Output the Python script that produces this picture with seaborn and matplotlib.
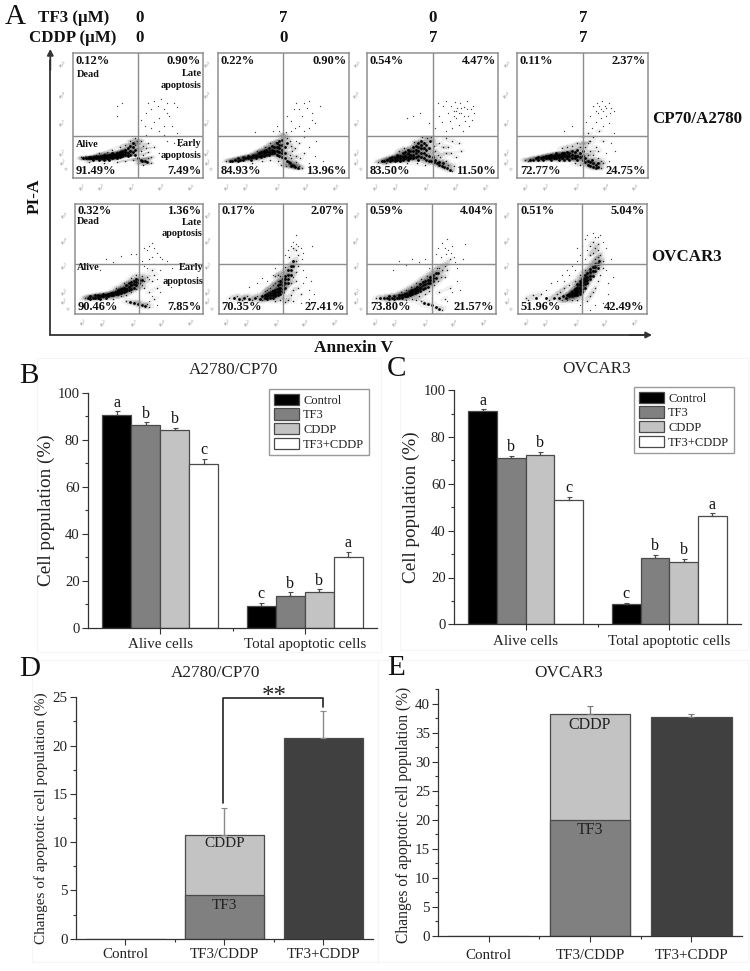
import matplotlib
matplotlib.use("Agg")
import matplotlib.pyplot as plt
from matplotlib.patches import Rectangle
from matplotlib.ticker import MultipleLocator, FixedLocator
import pandas as pd
import seaborn as sns

sns.set_style("ticks")
plt.rcParams['font.family'] = ['Liberation Serif', 'DejaVu Sans']
plt.rcParams['mathtext.fontset'] = 'stix'

W, H = 750, 971

# ---------- bar data ----------
treatments = ["Control", "TF3", "CDDP", "TF3+CDDP"]
groups = ["Alive cells", "Total apoptotic cells"]
b_alive = [90.7, 86.2, 84.2, 69.8]
b_alive_err = [1.5, 1.3, 1.1, 2.2]
b_total = [9.2, 13.6, 15.3, 30.0]
b_total_err = [1.5, 1.5, 1.1, 2.2]
b_alive_letters = ["a", "b", "b", "c"]
b_total_letters = ["c", "b", "b", "a"]
c_alive = [91.0, 71.2, 72.4, 53.3]
c_alive_err = [0.8, 0.9, 1.3, 1.2]
c_total = [8.6, 28.5, 26.8, 46.4]
c_total_err = [0.7, 1.1, 1.2, 1.0]
c_alive_letters = ["a", "b", "b", "c"]
c_total_letters = ["c", "b", "b", "a"]

change_cats = ["Control", "TF3/CDDP", "TF3+CDDP"]
d_tf3 = [0, 4.5, 0]
d_total = [0, 10.7, 20.8]
d_err = [0, 2.8, 2.8]
e_tf3 = [0, 20.0, 0]
e_total = [0, 38.2, 37.8]
e_err = [0, 1.5, 0.5]

# ---------- flow cytometry percentages (UL, UR, LL, LR) ----------
pct_row1 = [["0.12%", "0.90%", "91.49%", "7.49%"], ["0.22%", "0.90%", "84.93%", "13.96%"],
            ["0.54%", "4.47%", "83.50%", "11.50%"], ["0.11%", "2.37%", "72.77%", "24.75%"]]
pct_row2 = [["0.32%", "1.36%", "90.46%", "7.85%"], ["0.17%", "2.07%", "70.35%", "27.41%"],
            ["0.59%", "4.04%", "73.80%", "21.57%"], ["0.51%", "5.04%", "51.96%", "42.49%"]]

# ---------- flow cytometry events (percent of panel range) ----------
r1c1_core = [(8,16),(10,16),(12,16),(14,16),(12,17),(15,15),(16,17),(18,16),(18,18),(20,17),(20,15),(22,16),(22,18),(24,17),(24,19),(24,15),(26,16),(26,18),(28,17),(28,19),(28,15),(30,18),(30,20),(30,16),(32,17),(32,19),(34,18),(34,20),(34,16),(36,19),(36,21),(36,17),(38,18),(38,20),(38,22),(40,19),(40,21),(40,23),(42,20),(42,24),(42,18),(44,22),(44,26),(44,19),(46,21),(46,25),(46,28),(48,23),(48,19),(50,16),(52,15),(55,14),(57,13),(53,14)]
r1c1_mid = [(48,27),(50,24),(52,22),(50,28),(54,19),(56,24),(58,16),(60,12),(58,21),(54,26),(49,30),(44,30),(40,27),(36,25),(30,23),(26,21),(20,20),(12,13),(6,17),(24,12),(34,13),(40,14),(46,15),(50,12),(54,11),(60,17),(62,25),(48,32),(52,30),(58,28)]
r1c1_sparse = [(34,58),(38,60),(34,50),(50,50),(52,47),(56,52),(58,60),(60,55),(62,62),(65,58),(68,63),(70,55),(72,60),(74,50),(78,60),(80,57),(62,45),(66,48),(70,42),(72,52),(76,42),(60,40),(55,42),(66,38),(70,35),(56,35),(80,36),(82,26),(78,28),(72,30),(66,20),(72,17)]

r1c2_core = [(9,14),(11,14),(13,15),(15,14),(15,16),(17,15),(19,15),(19,17),(21,16),(23,16),(23,18),(25,15),(25,17),(27,17),(27,19),(29,16),(29,18),(31,18),(31,20),(33,17),(33,19),(33,21),(35,18),(35,20),(35,22),(37,19),(37,21),(37,23),(39,19),(39,21),(39,24),(41,20),(41,23),(41,26),(43,20),(43,22),(43,25),(45,19),(45,22),(45,25),(45,28),(47,18),(47,21),(47,24),(47,27),(47,30),(49,17),(49,20),(49,23),(49,27),(49,31),(51,16),(51,20),(51,25),(53,28),(53,14),(55,12),(57,11),(59,9),(61,8),(54,13),(56,10),(58,10)]
r1c2_mid = [(6,14),(60,13),(62,10),(64,8),(55,19),(57,22),(60,18),(53,32),(55,30),(51,34),(50,36),(48,34),(44,29),(40,28),(36,25),(30,22),(26,12),(34,14),(40,15),(46,14),(52,10),(48,11),(56,26),(59,24),(63,16),(62,28),(66,20),(56,16)]
r1c2_sparse = [(28,37),(42,38),(45,42),(47,38),(52,37),(53,50),(56,46),(58,55),(60,60),(62,55),(64,50),(66,60),(68,56),(70,62),(72,52),(72,47),(74,44),(70,40),(66,38),(78,58),(62,42),(59,40),(56,38),(60,30),(70,25),(74,18),(70,12),(80,14),(75,30),(66,33)]

r1c3_core = [(11,14),(13,14),(15,15),(17,14),(17,16),(19,15),(19,17),(21,14),(21,16),(23,15),(23,17),(23,19),(25,14),(25,16),(25,18),(27,15),(27,17),(27,20),(29,16),(29,18),(29,21),(31,15),(31,17),(31,20),(31,23),(33,16),(33,19),(33,22),(35,16),(35,19),(35,22),(35,25),(37,17),(37,20),(37,23),(37,26),(39,15),(39,18),(39,22),(39,25),(39,28),(41,17),(41,20),(41,24),(41,27),(41,30),(43,16),(43,20),(43,24),(43,28),(45,15),(45,19),(45,23),(45,27),(47,14),(47,18),(47,24),(49,14),(51,13),(53,12),(55,11),(57,10),(59,9),(61,8),(63,7),(52,15),(55,13),(58,12),(50,17),(48,30)]
r1c3_mid = [(8,13),(14,12),(46,32),(49,33),(50,30),(51,26),(52,22),(54,19),(50,21),(56,17),(60,14),(60,20),(62,11),(65,6),(66,10),(58,25),(55,28),(62,25),(64,20),(68,17),(44,11),(38,12),(30,12),(42,33),(36,29),(28,24),(24,22),(65,30),(60,32),(70,28),(72,22)]
r1c3_sparse = [(30,48),(35,50),(40,52),(47,44),(50,55),(52,40),(54,60),(55,50),(57,45),(58,58),(60,62),(60,38),(62,52),(63,46),(64,58),(65,40),(66,54),(67,61),(68,48),(69,56),(70,43),(71,60),(72,52),(73,38),(74,57),(75,46),(76,62),(77,50),(78,42),(79,55),(80,47),(81,58),(82,52),(68,54),(66,50),(70,52),(72,56),(76,55),(74,50)]

r1c4_core = [(10,15),(12,15),(14,16),(16,15),(16,17),(18,16),(20,15),(20,17),(22,16),(22,18),(24,16),(24,18),(26,15),(26,17),(26,19),(28,16),(28,18),(30,16),(30,18),(30,20),(32,15),(32,17),(32,19),(34,16),(34,18),(34,20),(36,15),(36,18),(36,20),(38,16),(38,18),(38,21),(40,15),(40,18),(40,20),(42,16),(42,19),(42,22),(44,16),(44,18),(44,21),(46,15),(46,18),(46,23),(48,17),(48,20),(50,15),(50,18),(52,13),(52,16),(54,11),(54,14),(56,10),(56,13),(58,9),(58,12),(60,8),(60,11),(62,9),(62,12),(57,15),(50,22)]
r1c4_mid = [(6,15),(8,14),(54,19),(56,22),(52,25),(48,25),(50,28),(54,28),(58,19),(62,16),(64,14),(64,8),(60,25),(56,30),(50,33),(46,28),(42,26),(38,25),(34,24),(44,12),(48,11),(66,12),(62,22),(66,30),(58,33),(54,36),(63,38)]
r1c4_sparse = [(36,38),(42,42),(50,40),(53,45),(55,30),(56,50),(57,40),(58,58),(60,45),(60,54),(61,60),(62,52),(63,58),(64,48),(64,55),(65,62),(66,54),(67,58),(68,50),(68,56),(70,60),(71,52),(72,56),(74,54),(66,42),(70,44),(74,36),(72,28),(75,22),(68,20),(70,14)]

r2c1_core = [(10,15),(12,14),(12,16),(14,15),(16,15),(16,17),(18,15),(18,17),(20,16),(20,14),(22,16),(22,18),(24,15),(24,17),(26,16),(26,18),(28,17),(28,19),(30,17),(30,19),(32,18),(32,20),(34,18),(34,20),(34,22),(36,19),(36,21),(36,23),(38,20),(38,22),(38,24),(40,21),(40,23),(40,26),(42,22),(42,25),(42,28),(44,23),(44,26),(44,29),(46,24),(46,27),(46,30),(48,26),(48,29),(48,32),(50,28),(50,31),(52,31),(43,11),(46,10),(49,9),(52,8),(55,7)]
r2c1_mid = [(8,15),(30,14),(36,16),(40,17),(44,20),(48,23),(52,26),(54,30),(52,35),(48,36),(44,33),(38,28),(32,24),(40,12),(50,11),(56,9),(58,6),(54,24),(56,34),(58,20),(60,30),(62,14),(60,40),(62,36),(64,24)]
r2c1_sparse = [(24,50),(30,47),(36,53),(44,55),(48,55),(52,48),(54,60),(56,58),(58,62),(60,65),(62,60),(64,56),(66,52),(68,50),(70,46),(72,48),(58,50),(62,46),(66,40),(60,52),(56,42),(58,32),(64,32),(60,16),(64,8),(58,12),(66,20),(70,30),(76,42),(75,25),(54,44),(20,40)]

r2c2_core = [(12,15),(16,14),(20,15),(24,14),(28,15),(32,14),(34,16),(36,15),(36,17),(38,14),(38,16),(38,18),(40,15),(40,17),(40,19),(42,15),(42,17),(42,19),(42,21),(44,16),(44,18),(44,20),(44,22),(46,17),(46,20),(46,23),(46,26),(48,18),(48,21),(48,24),(48,27),(48,30),(50,20),(50,23),(50,26),(50,29),(50,32),(52,24),(52,28),(52,32),(52,35),(54,28),(54,32),(54,36),(54,40),(56,36),(56,40),(56,44),(58,44),(58,48)]
r2c2_mid = [(8,15),(14,16),(18,13),(22,16),(26,13),(30,16),(34,13),(44,12),(48,13),(52,11),(54,13),(50,15),(56,17),(58,22),(46,30),(44,28),(42,26),(40,24),(38,22),(36,21),(48,35),(46,36),(44,35),(56,28),(58,34),(60,30),(60,38),(62,44),(60,48),(62,54),(60,58),(58,60),(55,52),(52,43),(50,38),(62,24),(64,18),(58,12)]
r2c2_sparse = [(24,25),(30,28),(34,33),(38,30),(42,36),(44,42),(47,46),(50,48),(52,54),(54,58),(56,62),(58,66),(60,64),(62,62),(64,60),(66,56),(65,50),(66,40),(68,34),(66,28),(70,22),(70,14),(64,10),(74,18),(72,30),(73,62),(60,72)]

r2c3_core = [(10,15),(13,15),(15,15),(17,14),(17,16),(19,15),(21,14),(21,16),(23,15),(25,15),(25,17),(27,15),(27,17),(29,16),(29,18),(31,16),(31,18),(33,17),(33,19),(33,21),(35,18),(35,20),(35,22),(37,19),(37,21),(37,23),(39,20),(39,22),(39,25),(41,21),(41,24),(41,27),(43,23),(43,26),(43,29),(45,24),(45,27),(45,30),(47,25),(47,28),(47,31),(49,28),(49,31),(49,34),(51,30),(51,33),(51,36),(53,33),(53,37),(55,37),(44,10),(47,9),(50,8),(53,6),(56,5)]
r2c3_mid = [(7,15),(30,13),(35,14),(40,16),(45,18),(48,21),(52,26),(55,30),(57,34),(58,40),(56,42),(54,42),(50,39),(46,35),(42,32),(38,28),(34,25),(30,22),(26,20),(42,12),(38,13),(58,4),(60,44),(62,46),(64,50),(62,40),(60,34),(56,20),(60,14),(64,24)]
r2c3_sparse = [(20,40),(25,48),(30,45),(35,50),(40,47),(45,50),(48,42),(50,48),(53,55),(55,60),(57,52),(58,65),(60,60),(61,55),(62,68),(63,58),(65,56),(66,62),(67,52),(68,47),(70,42),(72,46),(70,30),(66,20),(72,22),(62,12),(68,10),(50,15),(74,50),(76,64)]

r2c4_core = [(14,15),(22,15),(28,15),(32,15),(35,16),(37,15),(38,17),(40,16),(40,18),(42,16),(42,18),(42,20),(44,17),(44,19),(44,21),(44,23),(46,17),(46,19),(46,21),(46,24),(46,27),(48,18),(48,21),(48,24),(48,27),(48,30),(50,20),(50,23),(50,26),(50,29),(50,32),(52,24),(52,27),(52,30),(52,33),(52,36),(54,28),(54,31),(54,34),(54,37),(56,32),(56,35),(56,38),(56,41),(58,35),(58,39),(58,43),(60,39),(60,43),(60,46),(62,42),(62,46),(63,48)]
r2c4_mid = [(6,15),(8,13),(12,17),(18,18),(24,13),(30,18),(34,13),(38,13),(42,13),(46,13),(50,14),(54,12),(56,16),(58,20),(60,24),(62,30),(64,36),(66,42),(66,48),(62,52),(60,50),(56,46),(52,40),(48,36),(44,30),(40,26),(36,24),(33,20),(58,56),(60,60),(62,58),(64,54),(56,54),(62,64),(56,62),(58,66)]
r2c4_sparse = [(22,22),(26,28),(30,30),(34,36),(36,30),(38,40),(40,36),(42,44),(44,40),(46,48),(46,60),(48,54),(50,62),(52,50),(52,68),(54,58),(54,72),(58,74),(60,70),(62,70),(64,72),(66,66),(68,60),(68,40),(70,28),(70,18),(66,10),(60,8),(56,4),(48,8),(74,34),(72,50)]

row1_events = [(r1c1_core, r1c1_mid, r1c1_sparse), (r1c2_core, r1c2_mid, r1c2_sparse),
               (r1c3_core, r1c3_mid, r1c3_sparse), (r1c4_core, r1c4_mid, r1c4_sparse)]
row2_events = [(r2c1_core, r2c1_mid, r2c1_sparse), (r2c2_core, r2c2_mid, r2c2_sparse),
               (r2c3_core, r2c3_mid, r2c3_sparse), (r2c4_core, r2c4_mid, r2c4_sparse)]

tf3_doses = ["0", "7", "0", "7"]
cddp_doses = ["0", "0", "7", "7"]
log_labels_x = ["$10^1$", "$10^2$", "$10^3$", "$10^4$", "$10^5$"]
log_labels_y = ["0", "$10^1$", "$10^2$", "$10^3$", "$10^4$", "$10^5$"]

# ---------- layout ----------
fig = plt.figure(figsize=(W / 100, H / 100), dpi=100)


def ax_px(l, t, r, b):
    return fig.add_axes([l / W, 1 - b / H, (r - l) / W, (b - t) / H])


def fx(x):
    return x / W


def fy(y):
    return 1 - y / H


def ftext(x, y, s, **kw):
    kw.setdefault("ha", "center")
    kw.setdefault("va", "center")
    fig.text(fx(x), fy(y), s, **kw)


# ---------- panel A ----------
row1_boxes = [(73, 53, 203, 178.5), (218, 53, 348.7, 178.5), (367.3, 53, 498, 178.5), (517.3, 53, 647.7, 178.5)]
row2_boxes = [(74.7, 204.3, 203.3, 314), (218.7, 204.3, 347, 314), (367.3, 204.3, 496, 314), (518, 204.3, 646.7, 314)]
ytick_rows = ([8, 14, 21, 45, 68, 92], [5, 13, 21, 45, 68, 91])
xtick_vals = [7, 22, 46, 68, 91]
hlines = (33.7, 45.5)


def flow_panel(box, events, pct, hline, yticks):
    ax = ax_px(*box)
    core, mid, sparse = events
    dense = core + mid
    # density of the read events gives the stippled cloud around the dark band
    sns.kdeplot(x=[p[0] for p in dense], y=[p[1] for p in dense], fill=True, levels=8, thresh=0.08,
                bw_adjust=0.45, cmap="gray_r", ax=ax, zorder=1)
    for pts, size, col in ((sparse, 0.9, "#444444"), (mid, 1.1, "#222222"), (core, 4.0, "#000000")):
        sns.scatterplot(x=[p[0] for p in pts], y=[p[1] for p in pts], s=size, color=col,
                        linewidth=0, ax=ax, legend=False, zorder=2)
    ax.set_xlim(0, 100)
    ax.set_ylim(0, 100)
    ax.set_xlabel("")
    ax.set_ylabel("")
    ax.axvline(50, color="#8c8c8c", lw=1.0, zorder=3)
    ax.axhline(hline, color="#8c8c8c", lw=1.0, zorder=3)
    for s in ax.spines.values():
        s.set_color("#8f8f8f")
        s.set_linewidth(1.1)
    ax.set_xticks(xtick_vals, log_labels_x, fontsize=3.6, color="#777777", rotation=30)
    ax.set_yticks(yticks, log_labels_y, fontsize=3.6, color="#777777", rotation=30)
    ax.tick_params(length=0, pad=3)
    tk = dict(fontsize=9, fontweight="bold", color="#111111", zorder=5)
    ax.text(2, 94, pct[0], ha="left", va="center", **tk)
    ax.text(98.5, 94, pct[1], ha="right", va="center", **tk)
    ax.text(2, 6, pct[2], ha="left", va="center", **tk)
    ax.text(98.5, 6, pct[3], ha="right", va="center", **tk)
    return ax


axes_r1 = [flow_panel(b, e, p, hlines[0], ytick_rows[0]) for b, e, p in zip(row1_boxes, row1_events, pct_row1)]
axes_r2 = [flow_panel(b, e, p, hlines[1], ytick_rows[1]) for b, e, p in zip(row2_boxes, row2_events, pct_row2)]

small = dict(fontsize=7.4, fontweight="bold", color="#111111", zorder=5, va="center")
a = axes_r1[0]
a.text(3, 83, "Dead", ha="left", **small)
a.text(99, 84, "Late", ha="right", **small)
a.text(99, 74, "apoptosis", ha="right", **small)
a.text(2, 27, "Alive", ha="left", **small)
a.text(99, 28, "Early", ha="right", **small)
a.text(99, 18, "apoptosis", ha="right", **small)
a = axes_r2[0]
a.text(2, 84, "Dead", ha="left", **small)
a.text(99, 83.5, "Late", ha="right", **small)
a.text(99, 73, "apoptosis", ha="right", **small)
a.text(2, 42, "Alive", ha="left", **small)
a.text(100, 42, "Early", ha="right", **small)
a.text(100, 30, "apoptosis", ha="right", **small)

hdr = dict(fontsize=12.2, fontweight="bold", color="#111111")
ftext(74, 18, "TF3 (\u00b5M)", **hdr)
ftext(73, 38, "CDDP (\u00b5M)", **hdr)
for xp, t, c in zip([140, 283.5, 433, 583], tf3_doses, cddp_doses):
    ftext(xp, 18, t, **hdr)
    ftext(xp, 38, c, **hdr)
ftext(652.5, 119, "CP70/A2780", ha="left", **hdr)
ftext(651, 257, "OVCAR3", ha="left", **hdr)
ftext(35, 196, "PI-A", rotation=90, fontsize=12.4, fontweight="bold", color="#111111")
ftext(354, 348, "Annexin V", fontsize=12.4, fontweight="bold", color="#111111")
ftext(15, 17, "A", fontsize=21, color="#111111")
ftext(29, 376, "B", fontsize=21, color="#111111")
ftext(397, 369, "C", fontsize=21, color="#111111")
ftext(30, 669, "D", fontsize=21, color="#111111")
ftext(396, 668, "E", fontsize=21, color="#111111")

arrow = dict(arrowstyle="-|>,head_width=0.18,head_length=0.35", color="#333333", lw=1.3,
             shrinkA=0, shrinkB=0)
fig.add_artist(plt.Line2D([fx(50.3), fx(50.3)], [fy(335), fy(60)], color="#333333", lw=1.3))
fig.add_artist(plt.Line2D([fx(50.3), fx(645)], [fy(335), fy(335)], color="#333333", lw=1.3))
ann = fig.add_axes([0, 0, 1, 1], facecolor="none", zorder=-1)
ann.set_axis_off()
ann.set_xlim(0, W)
ann.set_ylim(H, 0)
ann.annotate("", xy=(50.3, 49), xytext=(50.3, 70), arrowprops=arrow)
ann.annotate("", xy=(652, 335), xytext=(630, 335), arrowprops=arrow)
# faint frames of the pasted sub-figures
for (l, t, r, b) in [(37, 358, 381, 652), (400, 358, 748, 650), (32, 660, 378, 962), (378, 660, 748, 962)]:
    ann.add_patch(Rectangle((l, t), r - l, b - t, fill=False, ec="#f5f5f5", lw=0.8))

# ---------- panels B and C ----------
colors4 = ["#000000", "#808080", "#c3c3c3", "#ffffff"]


def group_bars(box, alive, alive_err, total, total_err, alive_let, total_let, title, title_x, title_y, leg_box,
               ylabel_x, ylabel_y):
    ax = ax_px(*box)
    df = pd.DataFrame({
        "group": [groups[0]] * 4 + [groups[1]] * 4,
        "treatment": treatments * 2,
        "value": alive + total,
    })
    sns.barplot(data=df, x="group", y="value", hue="treatment", hue_order=treatments, order=groups,
                palette=colors4, saturation=1, width=0.8, gap=0, errorbar=None,
                edgecolor="#4a4a4a", linewidth=0.9, ax=ax)
    bar_sets = list(ax.containers)
    for i, cont in enumerate(bar_sets):
        for j, rect in enumerate(cont.patches):
            xc = rect.get_x() + rect.get_width() / 2
            val = (alive, total)[j][i]
            err = (alive_err, total_err)[j][i]
            let = (alive_let, total_let)[j][i]
            ax.errorbar(xc, val, yerr=[[0], [err]], color="#4a4a4a", lw=0.9, capsize=1.8, capthick=0.8, zorder=4)
            ax.text(xc, val + err + 0.3, let, ha="center", va="bottom", fontsize=11.5, color="#111111")
    ax.set_xlim(-0.5, 1.5)
    ax.set_ylim(0, 100)
    sns.despine(ax=ax)
    for s in ("left", "bottom"):
        ax.spines[s].set_color("#333333")
        ax.spines[s].set_linewidth(0.9)
    ax.yaxis.set_major_locator(MultipleLocator(20))
    ax.yaxis.set_minor_locator(MultipleLocator(10))
    ax.xaxis.set_minor_locator(FixedLocator([0.5]))
    ax.tick_params(axis="both", which="major", length=4, width=0.8, color="#333333", labelsize=10.6,
                   labelcolor="#222222", pad=2)
    ax.tick_params(axis="both", which="minor", length=2.5, width=0.8, color="#333333")
    ax.tick_params(axis="x", which="major", labelsize=10.8, pad=3.5)
    ax.set_xlabel("")
    ax.set_ylabel("")
    ftext(ylabel_x, ylabel_y, "Cell population (%)", rotation=90, fontsize=13.8, color="#222222")
    ftext(title_x, title_y, title, fontsize=12.3, color="#222222")
    l, t, r, b = leg_box
    handles, labels = ax.get_legend_handles_labels()
    ax.legend(handles, labels, loc="upper left", bbox_to_anchor=(fx(l), fy(t)), bbox_transform=fig.transFigure,
              borderaxespad=0, fontsize=9, handlelength=2.0, handleheight=1.0, labelspacing=0.15,
              borderpad=0.35, handletextpad=0.35, fancybox=False, framealpha=1, edgecolor="#9a9a9a", frameon=True,
              labelcolor="#222222")
    return ax


group_bars((88, 393, 377, 627.7), b_alive, b_alive_err, b_total, b_total_err, b_alive_letters, b_total_letters,
           "A2780/CP70", 234, 370, (269.3, 389.3, 369.3, 451), 46, 510)
group_bars((454, 390.3, 741, 624.3), c_alive, c_alive_err, c_total, c_total_err, c_alive_letters, c_total_letters,
           "OVCAR3", 597, 369, (634.3, 387.3, 734, 448.3), 411, 507)


# ---------- panels D and E ----------
def change_bars(box, tf3, total, err, ymax, title, title_x, title_y, ylabel_x, ylabel_y, err_color, xpad, ysize):
    ax = ax_px(*box)
    df = pd.DataFrame({"cat": change_cats, "total": total, "tf3": tf3})
    sns.barplot(data=df, x="cat", y="total", order=change_cats, hue="cat", hue_order=change_cats,
                palette=["#c3c3c3", "#c3c3c3", "#404040"], saturation=1, width=0.8, errorbar=None,
                edgecolor="#4a4a4a", linewidth=0.9, legend=False, ax=ax)
    sub = df[df["tf3"] > 0]
    sns.barplot(data=sub, x="cat", y="tf3", order=change_cats, color="#808080", saturation=1, width=0.8,
                errorbar=None, edgecolor="#4a4a4a", linewidth=0.9, ax=ax)
    for i in range(1, 3):
        ax.errorbar(i, total[i], yerr=[[0], [err[i]]], color=err_color, lw=1.0, capsize=2, capthick=0.8, zorder=4)
    ax.set_xlim(-0.5, 2.5)
    ax.set_ylim(0, ymax)
    sns.despine(ax=ax)
    for s in ("left", "bottom"):
        ax.spines[s].set_color("#333333")
        ax.spines[s].set_linewidth(0.9)
    ax.yaxis.set_major_locator(MultipleLocator(5))
    ax.yaxis.set_minor_locator(MultipleLocator(2.5))
    ax.xaxis.set_minor_locator(FixedLocator([0.5, 1.5]))
    ax.tick_params(axis="both", which="major", length=4, width=0.8, color="#333333", labelsize=10.8,
                   labelcolor="#222222", pad=2)
    ax.tick_params(axis="both", which="minor", length=2.5, width=0.8, color="#333333")
    ax.tick_params(axis="x", which="major", pad=xpad)
    ax.set_xlabel("")
    ax.set_ylabel("")
    ftext(ylabel_x, ylabel_y, "Changes of apoptotic cell population (%)", rotation=90, fontsize=ysize, color="#222222")
    ftext(title_x, title_y, title, fontsize=12.3, color="#222222")
    return ax


ax_d = change_bars((76, 697.3, 372.7, 938.7), d_tf3, d_total, d_err, 25, "A2780/CP70", 216, 673, 41, 818,
                   "#8a8a8a", 3, 11.0)
ax_e = change_bars((438.3, 689.3, 741.7, 936), e_tf3, e_total, e_err, 42.5, "OVCAR3", 569, 673, 404, 815,
                   "#777777", 5.5, 11.2)
ax_d.text(1, 10.55, "CDDP", ha="center", va="top", fontsize=11, color="#222222", zorder=6)
ax_d.text(1, 4.1, "TF3", ha="center", va="top", fontsize=11, color="#222222", zorder=6)
ax_e.text(1, 37.8, "CDDP", ha="center", va="top", fontsize=11.5, color="#222222", zorder=6)
ax_e.text(1, 19.6, "TF3", ha="center", va="top", fontsize=11.5, color="#222222", zorder=6)
ax_d.plot([0.985, 0.985, 2, 2], [14.1, 24.9, 24.9, 24.0], color="#222222", lw=1.2, clip_on=False, zorder=6)
ax_d.text(1.5, 25.0, "**", ha="center", va="center", fontsize=18, color="#222222", clip_on=False)

fig.savefig("out.png", dpi=100, facecolor="white")
